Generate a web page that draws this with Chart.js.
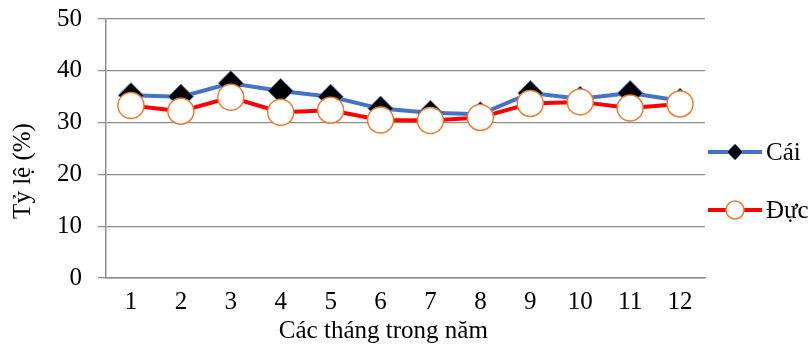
<!DOCTYPE html>
<html>
<head>
<meta charset="utf-8">
<title>Tỷ lệ Cái / Đực theo tháng</title>
<script src="https://cdn.jsdelivr.net/npm/chart.js"></script>
<style>
  html,body{margin:0;padding:0;background:#fff;}
  #wrap{width:812px;height:350px;}
</style>
</head>
<body>
<div id="wrap"><canvas id="c" width="812" height="350"></canvas></div>
<script>
// dữ liệu
const months = ["1","2","3","4","5","6","7","8","9","10","11","12"];
const cai = [35.3, 35.0, 37.6, 36.1, 35.0, 32.7, 31.9, 31.6, 35.7, 34.6, 35.7, 34.2];
const duc = [33.3, 32.2, 34.9, 32.0, 32.4, 30.5, 30.4, 31.0, 33.7, 34.0, 32.8, 33.6];
const yTicks = [0, 10, 20, 30, 40, 50];

const FONT = "'Liberation Serif','Times New Roman',serif";
const FSIZE = 25;
const GRID = "#8c8c8c";
const BLUE = "#4472C4", RED = "#FF0000", ORANGE = "#ED7D31";

// tiêu đề trục + chú thích vẽ tay (kiểu Excel: đường + ký hiệu)
const extras = {
  id: "extras",
  afterDraw(chart){
    const ctx = chart.ctx, a = chart.chartArea;
    ctx.save();
    ctx.fillStyle = "#000";
    ctx.font = FSIZE + "px " + FONT;
    ctx.textAlign = "center";
    ctx.textBaseline = "middle";
    ctx.fillText("Các tháng trong năm", a.left + (a.right - a.left) * 0.463, 331);
    ctx.save();
    ctx.translate(23, 171);
    ctx.rotate(-Math.PI / 2);
    ctx.fillText("Tỷ lệ (%)", 0, 0);
    ctx.restore();

    const items = [
      {label:"Cái", color:BLUE, y:152, kind:"diamond"},
      {label:"Đực", color:RED, y:210, kind:"circle"}
    ];
    const x0 = a.right + 3, x1 = x0 + 54, mx = (x0 + x1) / 2;
    items.forEach(it=>{
      ctx.strokeStyle = it.color;
      ctx.lineWidth = 4;
      ctx.beginPath(); ctx.moveTo(x0, it.y); ctx.lineTo(x1, it.y); ctx.stroke();
      ctx.beginPath();
      if(it.kind === "diamond"){
        const r = 8;
        ctx.moveTo(mx, it.y - r); ctx.lineTo(mx + r, it.y);
        ctx.lineTo(mx, it.y + r); ctx.lineTo(mx - r, it.y); ctx.closePath();
        ctx.fillStyle = "#000"; ctx.fill();
        ctx.strokeStyle = BLUE; ctx.lineWidth = 1; ctx.stroke();
      } else {
        ctx.arc(mx, it.y, 9, 0, Math.PI * 2);
        ctx.fillStyle = "#fff"; ctx.fill();
        ctx.strokeStyle = ORANGE; ctx.lineWidth = 1.5; ctx.stroke();
      }
      ctx.fillStyle = "#000";
      ctx.textAlign = "left";
      ctx.fillText(it.label, x1 + 4, it.y + 1);
    });
    ctx.restore();
  }
};

new Chart(document.getElementById("c"), {
  type: "line",
  data: {
    labels: months,
    datasets: [
      {label:"Cái", data:cai, order:2, borderColor:BLUE, borderWidth:4,
       pointStyle:"rectRot", pointRadius:12.5, pointBackgroundColor:"#000",
       pointBorderColor:BLUE, pointBorderWidth:1, tension:0},
      {label:"Đực", data:duc, order:1, borderColor:RED, borderWidth:4,
       pointStyle:"circle", pointRadius:13, pointBackgroundColor:"#fff",
       pointBorderColor:ORANGE, pointBorderWidth:1.5, tension:0}
    ]
  },
  options: {
    responsive: false,
    animation: false,
    layout: {padding:{left:0, top:19, right:107, bottom:0}},
    plugins: {legend:{display:false}, tooltip:{enabled:false}},
    scales: {
      x: {
        offset: true,
        grid: {display:false, drawTicks:false},
        border: {display:true, color:GRID, width:1.5},
        ticks: {color:"#000", font:{family:FONT, size:FSIZE}, padding:9, maxRotation:0},
        afterFit(s){ s.height = 72; s.paddingLeft = 0; s.paddingRight = 0; }
      },
      y: {
        min: 0, max: 50,
        afterBuildTicks(s){ s.ticks = yTicks.map(v=>({value:v})); },
        grid: {color:GRID, lineWidth:1.3, tickLength:8},
        border: {display:true, color:GRID, width:1.5},
        ticks: {color:"#000", font:{family:FONT, size:FSIZE}, padding:16},
        afterFit(s){ s.width = 106; s.paddingTop = 0; s.paddingBottom = 0; }
      }
    }
  },
  plugins: [extras]
});
</script>
</body>
</html>
